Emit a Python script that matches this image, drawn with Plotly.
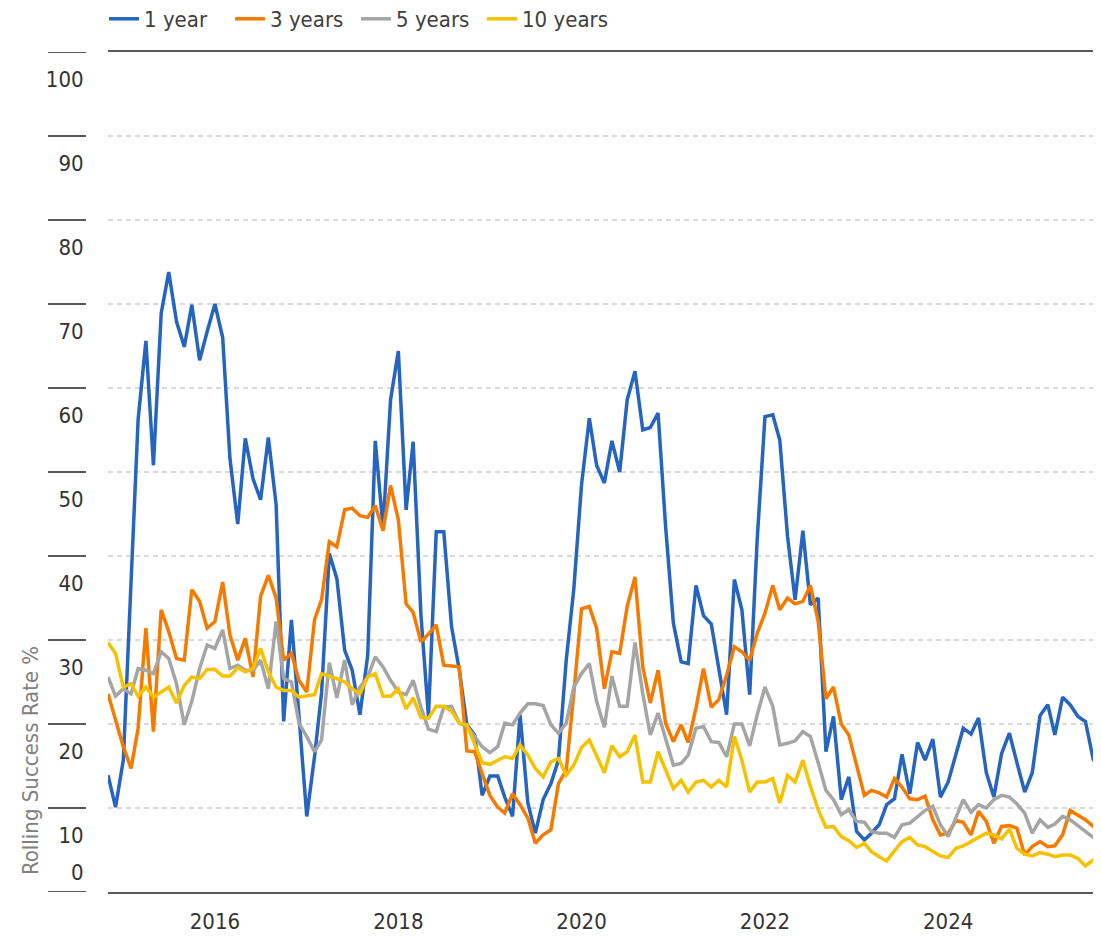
import pandas as pd
import plotly.graph_objects as go

dates = pd.date_range("2014-11-01", periods=131, freq="MS")

one_year = [13.9, 10.1, 15.7, 36.0, 56.2, 65.6, 50.8, 68.9, 73.8, 67.9,
            64.9, 69.9, 63.3, 66.7, 70.0, 66.0, 51.6, 43.8, 54.0, 49.2,
            46.7, 54.1, 46.1, 20.3, 32.4, 21.0, 9.0, 16.1, 23.7, 40.3,
            37.3, 28.8, 26.4, 21.1, 28.2, 53.7, 43.4, 58.6, 64.4, 45.5,
            53.6, 33.0, 20.9, 42.9, 42.9, 31.6, 26.4, 19.9, 18.7, 11.5,
            13.8, 13.8, 11.3, 9.0, 21.1, 10.6, 7.0, 11.0, 12.9, 15.7,
            27.6, 36.0, 48.5, 56.4, 50.8, 48.7, 53.7, 50.0, 58.6, 62.0,
            55.0, 55.3, 57.0, 43.5, 32.0, 27.4, 27.2, 36.5, 32.9, 31.9,
            26.8, 21.1, 37.2, 33.6, 23.5, 42.0, 56.6, 56.8, 53.8, 42.3,
            34.8, 43.0, 34.2, 35.0, 16.7, 20.9, 11.0, 13.7, 7.2, 6.2,
            7.0, 8.0, 10.4, 11.1, 16.4, 11.7, 17.8, 15.7, 18.2, 11.3,
            13.1, 16.3, 19.5, 18.8, 20.7, 14.2, 11.3, 16.5, 18.9, 15.4,
            11.9, 14.2, 21.0, 22.3, 18.7, 23.2, 22.3, 20.9, 20.3, 15.8,
            14.3]

three_years = [23.6, 20.5, 17.3, 14.7, 19.5, 31.4, 19.1, 33.6, 31.0, 27.8,
               27.6, 36.0, 34.6, 31.4, 32.2, 36.9, 30.6, 27.6, 30.2, 25.6,
               35.2, 37.7, 35.0, 27.6, 28.4, 25.2, 23.8, 32.4, 34.8, 41.7,
               41.1, 45.5, 45.7, 44.8, 44.6, 46.0, 43.0, 48.4, 44.3, 34.3,
               33.3, 29.8, 30.7, 31.8, 27.0, 26.9, 26.8, 16.8, 16.7, 14.1,
               11.5, 10.1, 9.4, 11.7, 10.4, 8.8, 5.8, 6.8, 7.4, 12.9,
               14.5, 23.6, 33.7, 34.0, 31.4, 24.2, 28.6, 28.4, 34.0, 37.5,
               26.8, 22.5, 26.4, 20.1, 17.9, 19.9, 17.8, 21.9, 26.6, 22.0,
               22.9, 25.8, 29.2, 28.6, 27.6, 30.8, 33.2, 36.5, 33.6, 35.0,
               34.3, 34.6, 36.5, 32.2, 23.0, 24.4, 20.0, 18.7, 14.9, 11.5,
               12.1, 11.8, 11.3, 13.5, 12.5, 11.1, 11.0, 11.4, 8.6, 6.8,
               7.0, 8.5, 8.3, 6.8, 9.6, 8.4, 5.8, 7.8, 7.9, 7.6,
               4.4, 5.4, 6.0, 5.4, 5.5, 6.8, 9.7, 9.2, 8.6, 7.8,
               10.6]

five_years = [25.6, 23.3, 24.2, 23.6, 26.6, 26.4, 26.0, 28.6, 27.8, 24.8,
              19.9, 22.7, 26.6, 29.4, 29.0, 31.2, 26.6, 27.0, 26.4, 26.4,
              27.6, 24.2, 32.2, 25.4, 25.0, 20.1, 18.5, 16.7, 18.1, 27.3,
              23.1, 27.6, 22.3, 24.4, 25.6, 28.0, 26.8, 25.2, 23.8, 23.5,
              25.2, 22.0, 19.4, 19.1, 22.0, 22.1, 20.1, 19.7, 18.5, 17.3,
              16.6, 17.3, 20.1, 19.9, 21.3, 22.4, 22.4, 22.2, 19.9, 18.9,
              20.1, 24.4, 26.0, 27.2, 22.7, 19.6, 25.7, 22.1, 22.1, 29.7,
              23.6, 18.7, 21.3, 18.1, 15.1, 15.3, 16.3, 19.5, 19.7, 17.9,
              17.8, 16.1, 20.0, 20.0, 17.4, 21.1, 24.4, 22.1, 17.5, 17.7,
              18.0, 19.1, 18.5, 15.4, 12.1, 11.0, 9.2, 9.8, 8.4, 8.3,
              7.2, 7.0, 7.0, 6.5, 8.0, 8.2, 8.9, 9.7, 10.2, 8.0,
              6.6, 8.9, 11.0, 9.5, 10.4, 10.0, 11.0, 11.5, 11.3, 10.5,
              9.4, 7.0, 8.6, 7.7, 8.1, 9.0, 8.6, 7.9, 7.2, 6.5,
              6.2]

ten_years = [29.7, 28.4, 24.4, 24.8, 23.3, 24.4, 23.2, 23.8, 24.4, 22.5,
             24.6, 25.6, 25.4, 26.5, 26.5, 25.7, 25.7, 26.7, 26.2, 26.6,
             29.0, 26.2, 24.4, 24.0, 24.0, 23.2, 23.3, 23.5, 26.0, 25.7,
             25.4, 25.0, 24.2, 23.6, 25.6, 26.0, 23.3, 23.3, 24.2, 21.8,
             23.1, 20.8, 20.7, 22.1, 22.1, 21.5, 20.1, 19.9, 17.5, 15.4,
             15.2, 15.7, 16.1, 15.9, 17.5, 16.3, 14.7, 13.7, 15.5, 15.9,
             13.9, 15.1, 17.2, 18.1, 16.1, 14.2, 17.4, 16.1, 16.7, 18.7,
             13.1, 13.1, 16.7, 14.5, 12.3, 13.3, 11.9, 13.1, 13.3, 12.5,
             13.3, 12.5, 18.5, 15.7, 11.9, 13.1, 13.1, 13.5, 10.6, 13.9,
             13.1, 15.7, 12.6, 9.8, 7.7, 7.8, 6.6, 6.1, 5.3, 5.8,
             4.8, 4.2, 3.7, 4.9, 6.0, 6.5, 5.6, 5.4, 4.8, 4.3,
             4.1, 5.2, 5.5, 6.0, 6.5, 7.0, 6.8, 6.3, 7.5, 5.2,
             4.5, 4.3, 4.7, 4.5, 4.2, 4.4, 4.4, 4.0, 3.1, 3.8,
             4.1]

series_names = ["1 year", "3 years", "5 years", "10 years"]
series_values = [one_year, three_years, five_years, ten_years]
colors = ["#2565C0", "#F57A00", "#A5A5A5", "#F6C200"]

y_ticks = list(range(0, 101, 10))
y_tick_text = [str(v) for v in y_ticks]
x_tick_labels = ["2016", "2018", "2020", "2022", "2024"]

FONT = "DejaVu Sans Condensed, Liberation Sans Narrow, sans-serif"
FS = 22

fig = go.Figure()
for name, vals, col in zip(series_names, series_values, colors):
    fig.add_trace(go.Scatter(x=dates, y=vals, mode="lines", name=name,
                             line=dict(color=col, width=3.5)))

# label positions sit a little below each gridline, as in the original
label_pos = [2.4] + [v - 3.2 for v in y_ticks[1:]]

shapes = []
for v in y_ticks:
    shapes.append(dict(type="line", xref="paper", yref="y", xsizemode="pixel",
                       xanchor=0, x0=-60, x1=-22, y0=v, y1=v,
                       line=dict(color="#595959", width=2)))

fig.update_layout(
    width=1093, height=929,
    margin=dict(l=100, r=0, t=44, b=45, autoexpand=False),
    paper_bgcolor="white", plot_bgcolor="white",
    font=dict(family=FONT, size=FS, color="#333333"),
    showlegend=True,
    legend=dict(orientation="h", x=-0.004, xanchor="left", y=1 + 33 / 840, yanchor="middle",
                font=dict(size=FS, color="#404040"), bgcolor="rgba(0,0,0,0)",
                itemwidth=30, entrywidth=81, entrywidthmode="pixels"),
    xaxis=dict(
        type="date", automargin=False,
        range=[dates[0], dates[-1]],
        tickmode="array",
        tickvals=[pd.Timestamp(f"{y}-01-01") for y in x_tick_labels],
        ticktext=x_tick_labels,
        showgrid=False, zeroline=False,
        showline=True, mirror=True, linecolor="#595959", linewidth=2,
        ticks="outside", ticklen=9, tickcolor="rgba(0,0,0,0)",
        tickfont=dict(size=FS, color="#333333"),
    ),
    yaxis=dict(
        range=[0, 100], automargin=False,
        tickmode="array", tickvals=label_pos, ticktext=y_tick_text,
        showgrid=False, zeroline=False, showline=False,
        ticks="outside", ticklen=19, tickcolor="rgba(0,0,0,0)",
        tickfont=dict(size=FS, color="#333333"),
        minor=dict(tickmode="array", tickvals=y_ticks[1:-1], showgrid=True,
                   gridcolor="#D9D9D9", gridwidth=1.5, griddash="5px,4px",
                   ticks=""),
    ),
    shapes=shapes,
    annotations=[dict(text="Rolling Success Rate %", xref="paper", yref="paper",
                      x=0, xshift=-78, y=(892 - 761) / 840, xanchor="center",
                      yanchor="middle", textangle=-90, showarrow=False,
                      font=dict(size=FS, color="#808080"))],
)

fig.write_html("out.html")
